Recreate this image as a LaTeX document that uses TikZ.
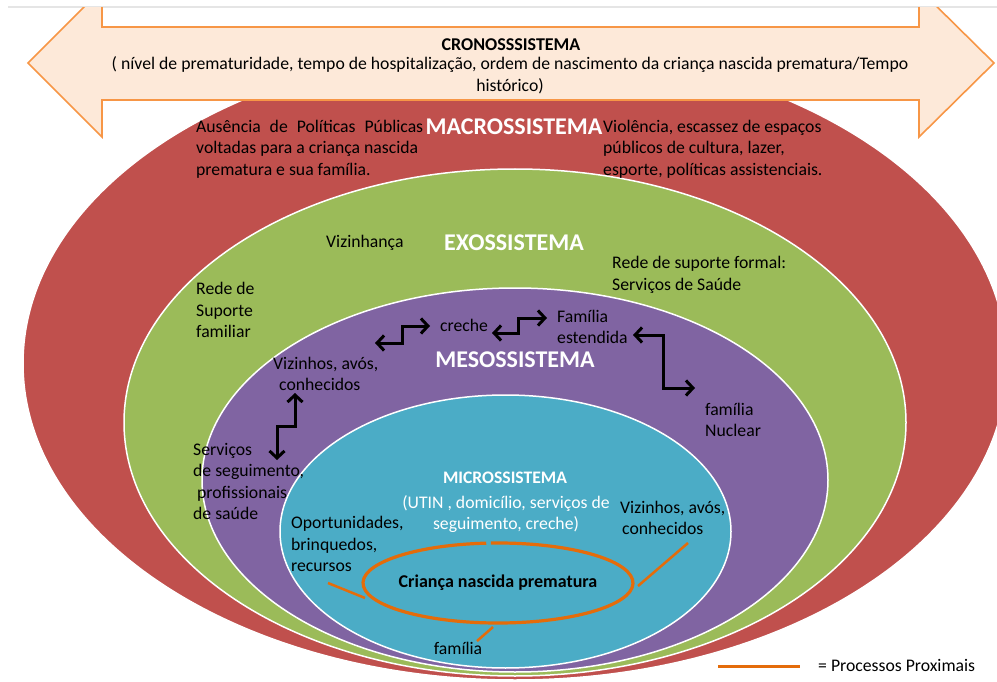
\documentclass[tikz,border=0pt]{standalone}
\usepackage{fontspec}
\setmainfont{Carlito}
\usetikzlibrary{arrows.meta}
\definecolor{macrored}{HTML}{C0504D}
\definecolor{exogreen}{HTML}{9BBB59}
\definecolor{mesopurple}{HTML}{8064A2}
\definecolor{microteal}{HTML}{4BACC6}
\definecolor{procorange}{HTML}{E46C0A}
\definecolor{cronofill}{HTML}{FDE9D9}
\definecolor{cronoline}{HTML}{F79646}
\begin{document}
\begin{tikzpicture}[x=1pt, y=-1pt,
    layer/.style={draw=white, line width=1.5pt},
    label/.style={font=\fontsize{17.7}{21.5}\selectfont, align=left, inner sep=0pt, anchor=base west},
    title/.style={font=\fontsize{24}{26}\selectfont\bfseries, text=white, inner sep=0pt},
    proximal/.style={draw=procorange, line width=2.5pt},
    link/.style={line width=3pt, {Straight Barb[length=7pt,width=15pt]}-{Straight Barb[length=7pt,width=15pt]}}]
    \useasboundingbox (0,0) rectangle (997,682);

    % Systems
    \draw[layer, fill=macrored] (515,363.5) ellipse [x radius=492pt, y radius=316.5pt];
    \draw[layer, fill=exogreen] (515,422.5) ellipse [x radius=391pt, y radius=253.5pt];
    \draw[layer, fill=mesopurple] (515,480) ellipse [x radius=313pt, y radius=192pt];
    \draw[layer, fill=microteal] (505.5,531.5) ellipse [x radius=225.5pt, y radius=136.5pt];

    % Chronosystem arrow
    \draw[gray!20, line width=1.5pt] (8,7) -- (997,7);
    \begin{scope}
        \clip (0,7.8) rectangle (997,682);
        \draw[draw=cronoline, fill=cronofill, line width=1.6pt] (28,63) -- (102,-11) -- (102,27) -- (919,27) -- (919,-11) -- (994,63) -- (919,137) -- (919,100) -- (102,100) -- (102,137) -- cycle;
    \end{scope}
    \node[font=\fontsize{18}{21}\selectfont\bfseries, inner sep=0pt] (crono) at (511,45) {CRONOSSSISTEMA};
    \node[label, anchor=base, align=center] (cronotext) at (510,91.5) {( nível de prematuridade, tempo de hospitalização, ordem de nascimento da criança nascida prematura/Tempo\\histórico)};

    % Macrosystem
    \node[label] (macroleft) at (196,175.5) {\makebox[227pt][s]{Ausência de Políticas Públicas}\\voltadas para a criança nascida\\prematura e sua família.};
    \node[title] (macro) at (514,127) {MACROSSISTEMA};
    \node[label] (macroright) at (603,175.5) {Violência, escassez de espaços\\públicos de cultura, lazer,\\esporte, políticas assistenciais.};

    % Exosystem
    \node[label] (vizinhanca) at (326,247.5) {Vizinhança};
    \node[title] (exo) at (514,243) {EXOSSISTEMA};
    \node[label] (formal) at (612,290) {Rede de suporte formal:\\Serviços de Saúde};
    \node[label] (familiar) at (196,337.5) {Rede de\\Suporte\\familiar};

    % Mesosystem
    \node[label] (creche) at (440,331.5) {creche};
    \node[label, font=\fontsize{17.7}{20.5}\selectfont] (estendida) at (557,343) {Família\\estendida};
    \node[title] (meso) at (515,360) {MESOSSISTEMA};
    \node[label] (vizinhos) at (273,390.5) {Vizinhos, avós,\\\hspace{6pt}conhecidos};
    \node[label] (nuclear) at (705,436.5) {família\\Nuclear};
    \node[label] (servicos) at (193,519.5) {Serviços\\de seguimento,\\\hspace{4pt}profissionais\\de saúde};

    \coordinate (l1a) at (375,343);
    \coordinate (l1b) at (430,326);
    \coordinate (l2a) at (492,333);
    \coordinate (l2b) at (547,318);
    \coordinate (l3a) at (633,335);
    \coordinate (l3b) at (695,388);
    \coordinate (l4a) at (295,393);
    \coordinate (l4b) at (277,460);
    \draw[link] (l1a) -- ++(27,0) |- (l1b);
    \draw[link] (l2a) -- ++(26,0) |- (l2b);
    \draw[link] (l3a) -- ++(30,0) |- (l3b);
    \draw[link] (l4a) -- ++(0,33) -| (l4b);

    % Microsystem
    \node[font=\fontsize{17.6}{20}\selectfont\bfseries, text=white, inner sep=0pt] (micro) at (505,478) {MICROSSISTEMA};
    \node[label, anchor=base, align=center, text=white] (utin) at (506,529.5) {(UTIN , domicílio, serviços de\\seguimento, creche)};
    \node[label] (microviz) at (620,534.5) {Vizinhos, avós,\\\hspace{2pt}conhecidos};
    \node[label] (oportunidades) at (291,571.5) {Oportunidades,\\brinquedos,\\recursos};
    \node[label, anchor=base] (familia) at (458,654.5) {família};

    % Proximal processes
    \coordinate (core) at (498,583);
    \draw[proximal, line width=3.2pt] (core) ++(95:135pt and 40pt) arc[start angle=95, end angle=453, x radius=135pt, y radius=40pt];
    \node[font=\fontsize{18}{20}\selectfont\bfseries, inner sep=0pt] (crianca) at (core) {Criança nascida prematura};
    \coordinate (p1a) at (328,583);
    \coordinate (p1b) at (365,598);
    \coordinate (p2a) at (638,586);
    \coordinate (p2b) at (688,543);
    \coordinate (p3a) at (477,641);
    \coordinate (p3b) at (493,627);
    \draw[proximal] (p1a) -- (p1b);
    \draw[proximal] (p2a) -- (p2b);
    \draw[proximal] (p3a) -- (p3b);

    % Legend
    \coordinate (legA) at (718,666);
    \coordinate (legB) at (800,666);
    \draw[proximal, line width=3pt] (legA) -- (legB);
    \node[label] (legtext) at (818,671.5) {= Processos Proximais};
\end{tikzpicture}
\end{document}
